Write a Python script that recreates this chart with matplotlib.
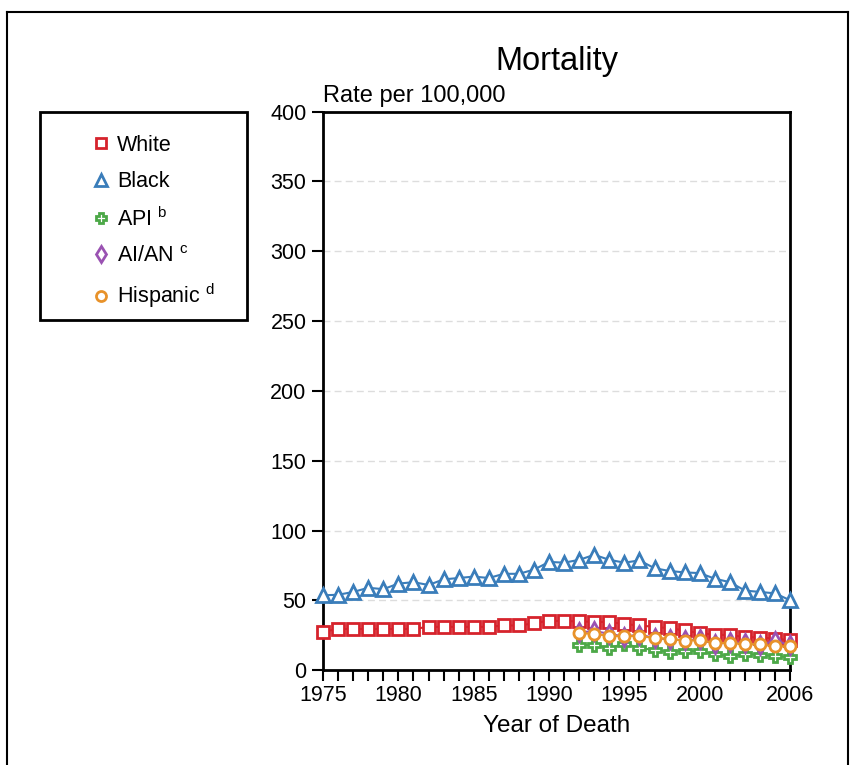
import numpy as np
import matplotlib.pyplot as plt
from matplotlib.lines import Line2D
from matplotlib.patches import Rectangle

plt.rcParams['font.family'] = ['Liberation Sans', 'DejaVu Sans']
plt.rcParams['mathtext.fontset'] = 'custom'
plt.rcParams['mathtext.rm'] = 'Liberation Sans'

# data
years_all = list(range(1975, 2007))
years_new = list(range(1992, 2007))

white = [27.5, 29.5, 29.5, 29.5, 29.5, 29.5, 29.5, 31, 31, 31, 31, 31, 32, 32, 33.5, 35.5,
         35, 35, 34.5, 34.5, 33, 32, 31, 30, 28.5, 26.5, 25.5, 25, 23.8, 23.3, 22.6, 21.4]
black = [53.6, 54, 56, 59, 58, 62, 63, 61, 65, 66, 67, 66, 69, 69, 72, 77.5,
         77, 79, 82.6, 79, 77, 78.6, 73, 71, 70, 69.5, 65.5, 63, 57, 56, 55, 50]
api = [17.9, 18, 15.8, 19, 16, 14.3, 13, 14, 13.5, 11.5, 10, 11.5, 11, 10, 9.3]
aian = [27, 28, 26, 24, 25.5, 23, 22, 21.5, 22, 18.6, 20, 19.5, 18, 21, 18]
hisp = [26.5, 26, 24.4, 24.5, 24.5, 23, 22.5, 21, 21.5, 19.4, 19.5, 18.6, 18.5, 17, 17]

labels = ['White', 'Black', r'API $^{\mathrm{b}}$', r'AI/AN $^{\mathrm{c}}$', r'Hispanic $^{\mathrm{d}}$']
colors = ['#d6232c', '#3a7dba', '#4ca847', '#9a52b2', '#e8922a']
markers = ['s', '^', 'P', 'd', 'o']
msizes = [8, 9.5, 8.5, 9, 8]

xticks = [1975, 1980, 1985, 1990, 1995, 2000, 2006]
yticks = list(range(0, 401, 50))

fig = plt.figure(figsize=(8.57, 7.65), dpi=100)
ax = fig.add_axes([0.377, 0.124, 0.545, 0.730])

series = [(years_all, white), (years_all, black), (years_new, api),
          (years_new, aian), (years_new, hisp)]
for (xs, ys), lab, c, m, ms in zip(series, labels, colors, markers, msizes):
    ax.plot(xs, ys, color=c, lw=1.5, marker=m, markersize=ms,
            markerfacecolor='white', markeredgecolor=c, markeredgewidth=2,
            clip_on=False, zorder=3, label=lab)

ax.set_xlim(1975, 2006)
ax.set_ylim(0, 400)
ax.set_xticks(xticks)
ax.set_xticks(years_all, minor=True)
ax.set_yticks(yticks)
ax.tick_params(axis='both', which='both', direction='out', length=8, width=1.5,
               labelsize=15.5, colors='black')
ax.tick_params(axis='x', pad=3)
ax.tick_params(axis='y', pad=4)
for s in ax.spines.values():
    s.set_linewidth(2)
for v in yticks[1:-1]:
    ax.axhline(v, color='#dddddd', lw=1, ls=(0, (5, 3)), zorder=1)

ax.set_xlabel('Year of Death', fontsize=17.5, labelpad=6)
ax.text(0, 1.008, 'Rate per 100,000', transform=ax.transAxes, fontsize=17,
        ha='left', va='bottom')
ax.set_title('Mortality', fontsize=23.5, pad=30)

# legend: frame drawn separately, entries via fig.legend
fig.add_artist(Rectangle((40 / 857, 1 - 320 / 765), 207 / 857, 208 / 765,
                         transform=fig.transFigure, facecolor='none',
                         edgecolor='black', lw=2))
leg_handles = [Line2D([], [], color=c, marker=m, ls='none', markersize=ms * 0.9,
                      markerfacecolor='white', markeredgewidth=2)
               for c, m, ms in zip(colors, markers, msizes)]
fig.legend(leg_handles, labels, loc='upper left',
           bbox_to_anchor=(92 / 857, 1 - 135 / 765), frameon=False,
           fontsize=15.5, borderpad=0, borderaxespad=0, labelspacing=0.7,
           handletextpad=0.35, handlelength=0.8)

# page border
for xs, ys in [([0.008, 0.008], [0.0, 0.984]), ([0.008, 0.990], [0.984, 0.984]),
               ([0.990, 0.990], [0.984, 0.0])]:
    fig.add_artist(Line2D(xs, ys, color='black', lw=1.5, transform=fig.transFigure))

fig.savefig('out.png', dpi=100)
